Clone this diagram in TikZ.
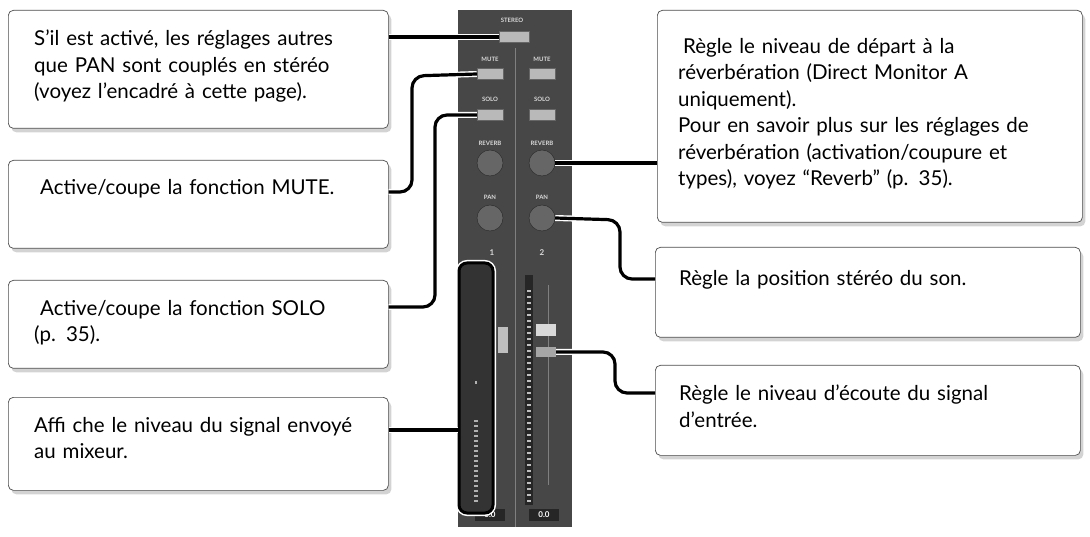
\documentclass[tikz,border=0pt]{standalone}
\usepackage{fontspec}
\setmainfont{Lato}
\usetikzlibrary{shadows}
\begin{document}
\begin{tikzpicture}[x=1pt,y=-1pt,
  callout/.style={draw=black!70,line width=0.7pt,fill=white,rounded corners=5pt,
    drop shadow={shadow xshift=3pt,shadow yshift=-4pt,opacity=0.35},
    minimum width=380pt,anchor=north west},
  rcallout/.style={callout,minimum width=425pt},
  txt/.style={anchor=west,align=left,text width=400pt,inner sep=0pt,
    font=\fontsize{20.5}{26.5}\selectfont},
  conn/.style={line width=3.2pt,black,rounded corners=12pt,
    preaction={draw=white,line width=6pt}},
  lbl/.style={font=\fontsize{6}{7}\selectfont\bfseries,text=white!85!black},
  btn/.style={fill=gray!55,draw=black!60,minimum width=26pt,minimum height=11pt,inner sep=0pt},
  knob/.style={circle,fill=black!60,draw=black!85,minimum size=26pt,inner sep=0pt},
  num/.style={font=\fontsize{8}{9}\selectfont\bfseries,text=white!85!black}]
\useasboundingbox (0,0) rectangle (1090,537);
% mixer panel
\fill[black!72] (458,10) rectangle (572,527);
\draw[black!50] (515,48) -- (515,527);
\node[lbl] (st) at (512,20) {STEREO};
\node[btn,minimum width=30pt] (stb) at (514,37) {};
\node[lbl] (m1l) at (490,59) {MUTE}; \node[lbl] (m2l) at (542,59) {MUTE};
\node[btn] (m1) at (490,74) {}; \node[btn] (m2) at (542,74) {};
\node[lbl] (s1l) at (490,99) {SOLO}; \node[lbl] (s2l) at (542,99) {SOLO};
\node[btn] (s1) at (490,115) {}; \node[btn] (s2) at (542,115) {};
\node[lbl] (r1l) at (490,143) {REVERB}; \node[lbl] (r2l) at (542,143) {REVERB};
\node[knob] (r1) at (490,163) {}; \node[knob] (r2) at (542,163) {};
\node[lbl] (p1l) at (490,197) {PAN}; \node[lbl] (p2l) at (542,197) {PAN};
\node[knob] (p1) at (490,218) {}; \node[knob] (p2) at (542,218) {};
\node[num] (n1) at (492,253) {1}; \node[num] (n2) at (542,253) {2};
% channel 2 meter and fader
\fill[black!85] (525,275) rectangle (533,505);
\foreach \y in {290,296,...,500} \fill[white!75!black] (527,\y) rectangle (531,\y+2);
\draw[black!50] (548,285) -- (548,485);
\node[fill=white!85!black,minimum width=20pt,minimum height=12pt,inner sep=0pt] (f2) at (546,330) {};
\node[fill=white!65!black,minimum width=20pt,minimum height=10pt,inner sep=0pt] (f2b) at (546,352) {};
\node[fill=white!75!black,minimum width=10pt,minimum height=26pt,inner sep=0pt] (f1) at (503,340) {};
\node[fill=black!85,text=white,font=\fontsize{8}{9}\selectfont\bfseries,minimum width=30pt,minimum height=12pt,inner sep=0pt] (v2) at (544,515) {0.0};
\node[fill=black!85,text=white,font=\fontsize{8}{9}\selectfont\bfseries,minimum width=30pt,minimum height=12pt,inner sep=0pt] (v1) at (490,515) {0.0};
% channel 1 meter highlighted
\node[draw=black,line width=3pt,rounded corners=8pt,fill=black!80,minimum width=34pt,minimum height=250pt,inner sep=0pt,
  preaction={draw=white,line width=6pt}] (mtr) at (476,388) {};
\foreach \y in {420,425,...,500} \fill[white!70!black] (474,\y) rectangle (478,\y+2);
\fill[white!70!black] (475,381) rectangle (477,384);
% callouts
\node[callout,minimum height=118pt] (b1) at (8,10) {};
\node[txt,anchor=north west] (t1) at (34,30) {S’il est activé, les réglages autres\\que PAN sont couplés en  stéréo\\(voyez l’encadré à cette page).};
\node[callout,minimum height=88pt] (b2) at (8,160) {};
\node[txt] (t2) at (40,189) {Active/coupe la fonction MUTE.};
\node[callout,minimum height=88pt] (b3) at (8,280) {};
\node[txt,anchor=north west] (t3) at (40,300) {Active/coupe la fonction SOLO\\\hspace*{-6pt}(p. 35).};
\node[callout,minimum height=93pt] (b4) at (8,397) {};
\node[txt,anchor=north west] (t4) at (34,417) {Affi  che le niveau du signal envoyé\\au mixeur.};
\node[rcallout,minimum height=212pt] (b5) at (657,10) {};
\node[txt,anchor=north west] (t5) at (683,38) {Règle le niveau de départ à la\\\hspace*{-5pt}réverbération (Direct Monitor A\\\hspace*{-5pt}uniquement).\\\hspace*{-5pt}Pour en savoir plus sur les réglages de\\\hspace*{-5pt}réverbération (activation/coupure et\\\hspace*{-5pt}types), voyez “Reverb” (p. 35).};
\node[rcallout,minimum height=90pt] (b6) at (655,247) {};
\node[txt] (t6) at (679,280) {Règle la  position stéréo du son.};
\node[rcallout,minimum height=90pt] (b7) at (655,365) {};
\node[txt,anchor=north west] (t7) at (679,385) {Règle le niveau d’écoute du signal\\d’entrée.};
% connectors
\draw[conn] (b1.east |- stb.west) -- (stb.west);
\draw[conn] (b2.east |- 0,192) -- (412,192) -- (412,76) -- (m1.west);
\draw[conn] (s1.west) -- (435,115) -- (435,307) -- (b3.east |- 0,307);
\draw[conn] (b4.east |- 0,430) -- (mtr.west |- 0,430);
\draw[conn] (r2.east) -- (b5.west |- r2.east);
\draw[conn] (p2.east) -- (620,220) -- (620,279) -- (b6.west |- 0,279);
\draw[conn] (f2b.east) -- (615,352) -- (615,393) -- (b7.west |- 0,393);
\end{tikzpicture}
\end{document}
